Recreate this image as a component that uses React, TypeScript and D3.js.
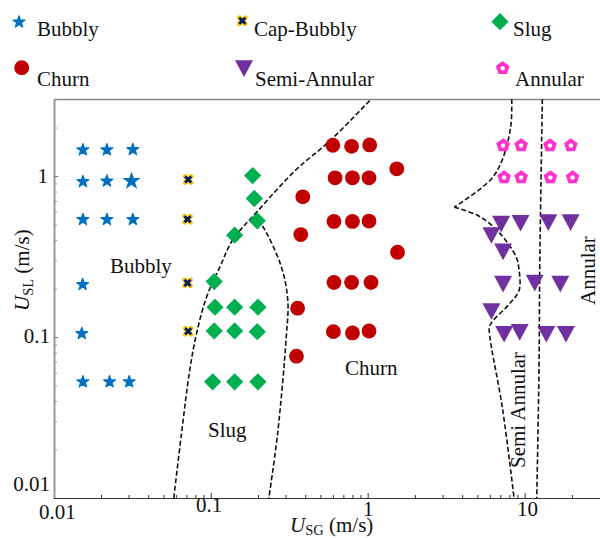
import { useEffect, useRef } from "react";
import * as d3 from "d3";

const WIDTH = 600;
const HEIGHT = 538;
const FONT = '"Liberation Serif", "Times New Roman", serif';

// [USG, USL] in m/s
const bubbly = [
  [0.01535, 1.455], [0.02182, 1.455], [0.03193, 1.46],
  [0.01535, 0.924], [0.02182, 0.93], [0.03193, 0.537],
  [0.01535, 0.537], [0.02182, 0.537],
  [0.01529, 0.212], [0.0151, 0.1051],
  [0.01535, 0.0527], [0.0227, 0.0527], [0.03024, 0.0527],
];
const bubblyLarge = [[0.03133, 0.93]];
const capBubbly = [[0.0719, 0.951], [0.0712, 0.539], [0.0712, 0.217], [0.0719, 0.1086]];
const slug = [
  [0.185, 1.007], [0.1896, 0.725], [0.198, 0.527], [0.1421, 0.429],
  [0.1053, 0.221], [0.1065, 0.1532], [0.1421, 0.1532], [0.2, 0.1532],
  [0.1053, 0.109], [0.1421, 0.109], [0.198, 0.108],
  [0.103, 0.0527], [0.1421, 0.0527], [0.2, 0.0527],
];
const churn = [
  [0.6, 1.553], [0.79, 1.53], [1.03, 1.56], [1.533, 1.108],
  [0.62, 0.974], [0.8, 0.974], [1.02, 0.974],
  [0.386, 0.743], [0.375, 0.433],
  [0.61, 0.522], [0.8, 0.522], [1.02, 0.525], [1.55, 0.336],
  [0.61, 0.218], [0.79, 0.218], [1.05, 0.218],
  [0.358, 0.151],
  [0.605, 0.108], [0.8, 0.106], [1.02, 0.109], [0.352, 0.076],
];
const semiAnnular = [
  [7.08, 0.507], [9.42, 0.514], [14.15, 0.518], [19.63, 0.518],
  [6.14, 0.431], [7.29, 0.341],
  [7.29, 0.215], [11.6, 0.218], [16.87, 0.215],
  [6.14, 0.1454],
  [7.4, 0.105], [9.3, 0.108], [13.74, 0.105], [18.33, 0.105],
];
const annular = [
  [7.29, 1.547], [9.5, 1.547], [14.5, 1.547], [19.7, 1.547],
  [7.4, 0.979], [9.5, 0.979], [14.6, 0.979], [20.2, 0.979],
];

// regime boundaries
const bubblySlugLine = [
  [0.0582, 0.01], [0.0651, 0.0249], [0.0735, 0.0619], [0.0811, 0.1041],
  [0.0939, 0.176], [0.114, 0.27], [0.1386, 0.403], [0.1953, 0.593],
  [0.3507, 1.097], [0.571, 1.645], [1.051, 3],
];
const slugChurnLine = [
  [0.198, 0.529], [0.2142, 0.488], [0.2815, 0.274], [0.31, 0.1686],
  [0.3028, 0.0993], [0.2666, 0.0249], [0.2347, 0.01],
];
const churnSemiUpper = [
  [8.28, 3], [8.16, 2.038], [7.21, 1.266], [6.09, 0.951], [3.56, 0.64],
];
const churnSemiLower = [
  [3.56, 0.64], [5.13, 0.563], [6.87, 0.446], [8.78, 0.318], [9.21, 0.2626],
  [9.21, 0.1945], [7.96, 0.1598], [6.0, 0.1178], [6.0, 0.1017],
  [7.21, 0.0365], [8.56, 0.01],
];
const semiAnnularLine = [
  [12.96, 3], [12.66, 0.7145], [12.47, 0.2626], [12.35, 0.0646], [11.94, 0.01],
];

const xMinor = [0.02, 0.03, 0.04, 0.05, 0.06, 0.07, 0.08, 0.09, 0.2, 0.3, 0.4, 0.5, 0.6, 0.7, 0.8, 0.9, 2, 3, 4, 5, 6, 7, 8, 9, 20];
const yMinor = [0.02, 0.03, 0.04, 0.05, 0.06, 0.07, 0.08, 0.09, 0.2, 0.3, 0.4, 0.5, 0.6, 0.7, 0.8, 0.9, 2, 3];
const majorTicks = [0.01, 0.1, 1, 10];

const pentagon = (r: number) =>
  d3.range(5).map((i) => {
    const a = (i * 2 * Math.PI) / 5 - Math.PI / 2;
    return `${r * Math.cos(a)},${r * Math.sin(a)}`;
  }).join(" ");

export default function App() {
  const svgRef = useRef(null);

  useEffect(() => {
    const svg = d3.select(svgRef.current);
    svg.selectAll("*").remove();

    const x = d3.scaleLog().domain([0.01, 30.2]).range([53.7, 600]);
    const y = d3.scaleLog().domain([0.01, 3]).range([498, 99.2]);

    const drawStar = (g) =>
      g.append("path").attr("d", d3.symbol(d3.symbolStar, 42)())
        .attr("fill", "#0070c0").attr("stroke", "#0070c0").attr("stroke-width", 1.4)
        .attr("stroke-linejoin", "round");
    const drawBigStar = (g) =>
      g.append("path").attr("d", d3.symbol(d3.symbolStar, 105)()).attr("fill", "#0070c0");
    const drawCap = (g) => {
      const cross = d3.symbol(d3.symbolX, 26)();
      g.append("path").attr("d", cross).attr("fill", "none")
        .attr("stroke", "#ffc000").attr("stroke-width", 4.6).attr("stroke-linecap", "round");
      g.append("path").attr("d", cross).attr("fill", "none")
        .attr("stroke", "#002060").attr("stroke-width", 2.8);
    };
    const drawDiamond = (g) =>
      g.append("path").attr("d", d3.symbol(d3.symbolDiamond2, 190)()).attr("fill", "#00b050");
    const drawCircle = (g) =>
      g.append("circle").attr("r", 7.4).attr("fill", "#c00000");
    const drawTriangle = (g, r = 9) =>
      g.append("path")
        .attr("d", `M${-r},${-r * 0.85}L${r},${-r * 0.85}L0,${r}Z`)
        .attr("fill", "#7030a0");
    const drawPentagon = (g) => {
      g.append("polygon").attr("points", pentagon(7.2)).attr("fill", "#ff33cc");
      g.append("circle").attr("r", 2.2).attr("fill", "#fff");
    };

    const plot = (data, draw) =>
      data.forEach((d) => {
        const g = svg.append("g").attr("transform", `translate(${x(d[0])},${y(d[1])})`);
        draw(g);
      });

    // axes, ticks pointing inwards
    const axisStyle = (g, colour: string) => {
      g.selectAll("path,line").attr("stroke", colour);
      g.selectAll("text").remove();
    };
    svg.append("line").attr("x1", 54).attr("x2", 600).attr("y1", 99.5).attr("y2", 99.5)
      .attr("stroke", "#888").attr("stroke-width", 1.5);
    svg.append("g").attr("transform", "translate(54,0)")
      .call(d3.axisLeft(y).tickValues(yMinor).tickSize(-3).tickSizeOuter(0))
      .call((g) => axisStyle(g, "#999"))
      .call((g) => g.select(".domain").attr("stroke-width", 2));
    svg.append("g").attr("transform", "translate(54,0)")
      .call(d3.axisLeft(y).tickValues(majorTicks.slice(1, 3)).tickSize(-4).tickSizeOuter(0))
      .call((g) => axisStyle(g, "#777"))
      .call((g) => g.select(".domain").remove());
    svg.append("g").attr("transform", "translate(0,498)")
      .call(d3.axisBottom(x).tickValues(xMinor).tickSize(-3).tickSizeOuter(0))
      .call((g) => axisStyle(g, "#333"));
    svg.append("g").attr("transform", "translate(0,498)")
      .call(d3.axisBottom(x).tickValues(majorTicks.slice(1)).tickSize(-5).tickSizeOuter(0))
      .call((g) => axisStyle(g, "#333"));

    // boundaries
    const line = d3.line().x((d) => x(d[0])).y((d) => y(d[1])).curve(d3.curveCatmullRom);
    [bubblySlugLine, slugChurnLine, churnSemiUpper, churnSemiLower, semiAnnularLine].forEach((d) => {
      svg.append("path").attr("d", line(d)).attr("fill", "none")
        .attr("stroke", "#111").attr("stroke-width", 1.6).attr("stroke-dasharray", "5 2.5");
    });

    // markers
    plot(bubbly, drawStar);
    plot(bubblyLarge, drawBigStar);
    plot(capBubbly, drawCap);
    plot(slug, drawDiamond);
    plot(churn, drawCircle);
    plot(semiAnnular, (g) => drawTriangle(g));
    plot(annular, drawPentagon);

    // legend
    const legendAt = (px: number, py: number, draw) => {
      draw(svg.append("g").attr("transform", `translate(${px},${py})`));
    };
    legendAt(19, 22, drawStar);
    legendAt(242.3, 20.7, drawCap);
    legendAt(500, 21.7, drawDiamond);
    legendAt(21.7, 67.7, drawCircle);
    legendAt(244, 68, (g) => drawTriangle(g));
    legendAt(502.7, 68.3, drawPentagon);

    const label = (text: string, px: number, py: number, size = 21, rotate = false, anchor = "start") => {
      svg.append("text").attr("x", px).attr("y", py).attr("font-size", size)
        .attr("font-family", FONT).attr("fill", "#111").attr("text-anchor", anchor)
        .attr("transform", rotate ? `rotate(-90 ${px} ${py})` : null).text(text);
    };
    label("Bubbly", 37, 36);
    label("Cap-Bubbly", 254, 36);
    label("Slug", 513, 36);
    label("Churn", 37, 86);
    label("Semi-Annular", 255, 86);
    label("Annular", 515, 86);

    label("Bubbly", 110, 273);
    label("Slug", 208, 437);
    label("Churn", 345, 375);
    label("Semi Annular", 525, 468, 21, true);
    label("Annular", 595, 305, 21, true);

    // tick labels, set by hand like the original
    label("0.01", 50, 491, 21, false, "end");
    label("0.1", 50, 343, 21, false, "end");
    label("1", 48, 183, 21, false, "end");
    label("0.01", 39, 518.5);
    label("0.1", 196, 511.5);
    label("1", 363, 516);
    label("10", 517, 516);

    // axis titles with subscripts
    const xTitle = svg.append("text").attr("x", 290).attr("y", 532).attr("font-size", 21)
      .attr("font-family", FONT).attr("fill", "#111");
    xTitle.append("tspan").attr("font-style", "italic").text("U");
    xTitle.append("tspan").attr("font-size", 14.5).attr("dy", 2.5).text("SG");
    xTitle.append("tspan").attr("dy", -2.5).text(" (m/s)");

    const yTitle = svg.append("text").attr("transform", "translate(29,311) rotate(-90)")
      .attr("font-size", 21).attr("font-family", FONT).attr("fill", "#111");
    yTitle.append("tspan").attr("font-style", "italic").text("U");
    yTitle.append("tspan").attr("font-size", 14.5).attr("dy", 4).text("SL");
    yTitle.append("tspan").attr("dy", -4).text(" (m/s)");
  }, []);

  return (
    <svg
      ref={svgRef}
      width={WIDTH}
      height={HEIGHT}
      style={{ position: "absolute", left: 0, top: 0, background: "#fff" }}
    ></svg>
  );
}
